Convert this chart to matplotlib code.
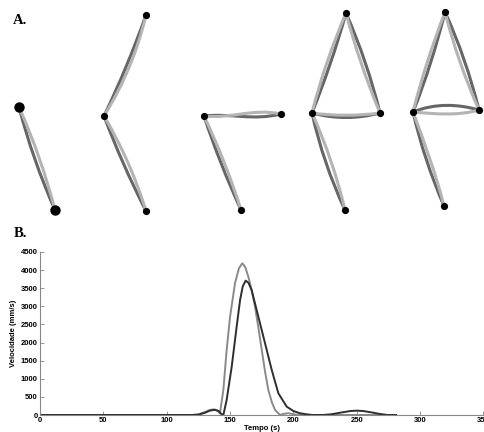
import numpy as np
import matplotlib
matplotlib.use("Agg")
import matplotlib.pyplot as plt
from matplotlib.path import Path
from matplotlib.patches import PathPatch

plt.rcParams['font.family'] = ['Liberation Sans', 'DejaVu Sans']

# ---- panel A: arm poses (pixel coords of the top panel) ----
joints_x = [[19, 55], [146, 104, 146], [204, 281, 241], [346, 312, 380, 345], [445, 413, 479, 444]]
joints_y = [[107, 210], [15, 116, 211], [116, 114, 210], [13, 113, 113, 210], [12, 112, 110, 206]]
joint_size = [7.5, 5.2, 5.2, 5.2, 5.2]

# each stroke: start, control 1, control 2, end (cubic bezier)
dark_strokes = [
    [[(19, 107), (28.2, 142.3), (40.2, 176.7), (55, 210)]],
    [[(146, 15), (133.8, 49.5), (119.8, 83.1), (104, 116)],
     [(104, 116), (116.2, 148.5), (130.2, 180.1), (146, 211)]],
    [[(204, 116), (232, 113), (252, 121), (281, 114)],
     [(204, 116), (214.5, 148), (227, 179.4), (241, 210)]],
    [[(346, 13), (336.5, 47), (325, 80.3), (312, 113)],
     [(346, 13), (360.2, 45.3), (371.5, 78.7), (380, 113)],
     [(312, 113), (335, 119), (357, 119), (380, 113)],
     [(312, 113), (319.5, 146.5), (330.5, 179), (345, 210)]],
    [[(445, 12), (436.5, 46), (426, 79.4), (413, 112)],
     [(445, 12), (459.5, 43.6), (470.5, 76.3), (479, 110)],
     [(413, 112), (435, 103), (458, 104), (479, 110)],
     [(413, 112), (420.5, 144.5), (431, 176), (444, 206)]],
]
light_strokes = [
    [[(19, 107), (33.8, 140.3), (45.8, 174.7), (55, 210)]],
    [[(146, 15), (137.5, 51), (123.5, 84.6), (104, 116)],
     [(104, 116), (121.7, 146.1), (135.7, 177.7), (146, 211)]],
    [[(204, 116), (232, 119), (252, 108), (281, 114)],
     [(204, 116), (218.5, 146.5), (231, 178), (241, 210)]],
    [[(346, 13), (332, 46), (320.5, 79), (312, 113)],
     [(346, 13), (355, 47), (366.5, 80.5), (380, 113)],
     [(312, 113), (335, 116), (357, 116), (380, 113)],
     [(312, 113), (326, 144), (337, 176.5), (345, 210)]],
    [[(445, 12), (432.5, 44.5), (421.5, 78), (413, 112)],
     [(445, 12), (453.5, 45.7), (465, 78.3), (479, 110)],
     [(413, 112), (435, 114), (458, 116), (479, 110)],
     [(413, 112), (424.5, 143), (436, 174), (444, 206)]],
]

# ---- panel B: velocity profiles ----
t_light = [0, 120, 125, 130, 134, 137, 140, 142, 144.7, 147.3, 150, 153.9, 157, 159.7, 162, 164.4,
           167, 169.7, 172.3, 175, 177.6, 180.2, 183, 185.5, 189.4, 192, 196, 200, 204, 280]
v_light = [0, 0, 15, 80, 140, 155, 120, 45, 690, 1795, 2715, 3640, 4050, 4190, 4080, 3820,
           3450, 2990, 2420, 1795, 1200, 690, 350, 140, 0, 30, 50, 20, 0, 0]
t_dark = [0, 120, 125, 130, 134, 138, 141, 143, 144.7, 147.3, 151.3, 155.2, 157.9, 160, 162.3, 164.5,
          167, 172.3, 177.6, 182.9, 188.1, 194.7, 200, 205, 210, 215, 223, 230, 238, 245, 250, 255,
          262, 268, 274, 281]
v_dark = [0, 0, 10, 60, 120, 145, 110, 30, 0, 415, 1335, 2440, 3175, 3550, 3710, 3650,
          3450, 2715, 1980, 1240, 600, 230, 110, 50, 20, 0, 0, 20, 70, 110, 120, 110,
          70, 30, 0, 0]
x_ticks = [0, 50, 100, 150, 200, 250, 300, 350]
y_ticks = [0, 500, 1000, 1500, 2000, 2500, 3000, 3500, 4000, 4500]

W, H = 485, 432
fig = plt.figure(figsize=(W / 100, H / 100), dpi=100)

axA = fig.add_axes([0, 1 - 225 / H, 1, 225 / H])
axA.set_xlim(0, W)
axA.set_ylim(225, 0)
axA.axis('off')
codes = [Path.MOVETO, Path.CURVE4, Path.CURVE4, Path.CURVE4]
for strokes, col in ((dark_strokes, '#666666'), (light_strokes, '#b4b4b4')):
    for pose in strokes:
        for pts in pose:
            axA.add_patch(PathPatch(Path(pts, codes), fill=False, edgecolor=col,
                                    lw=2.2, capstyle='round'))
for jx, jy, s in zip(joints_x, joints_y, joint_size):
    axA.plot(jx, jy, 'o', color='black', markersize=s, markeredgewidth=0, zorder=5)
fig.text(13 / W, 1 - 21 / H, "A.", family='Liberation Serif', fontweight='bold', fontsize=10.5, va='center')
fig.text(14 / W, 1 - 234 / H, "B.", family='Liberation Serif', fontweight='bold', fontsize=10.5, va='center')

axB = fig.add_axes([40 / W, 17 / H, 443.5 / W, 163 / H])
axB.plot(t_light, v_light, color='#8a8a8a', lw=1.4)
axB.plot(t_dark, v_dark, color='#2e2e2e', lw=1.4)
axB.set_xlim(0, 350)
axB.set_ylim(0, 4500)
axB.set_xticks(x_ticks)
axB.set_yticks(y_ticks)
axB.tick_params(direction='in', length=3, width=0.6, colors='#888888', labelcolor='black',
                labelsize=5.5, pad=1.5)
for lab in axB.get_xticklabels() + axB.get_yticklabels():
    lab.set_fontweight('bold')
axB.spines['top'].set_visible(False)
axB.spines['right'].set_visible(False)
for sp in ('left', 'bottom'):
    axB.spines[sp].set_color('#888888')
    axB.spines[sp].set_linewidth(0.8)
axB.set_xlabel("Tempo (s)", fontsize=5.5, fontweight='bold', labelpad=1)
axB.set_ylabel("Velocidade (mm/s)", fontsize=5.5, fontweight='bold', labelpad=3)

plt.savefig("out.png", dpi=100)
